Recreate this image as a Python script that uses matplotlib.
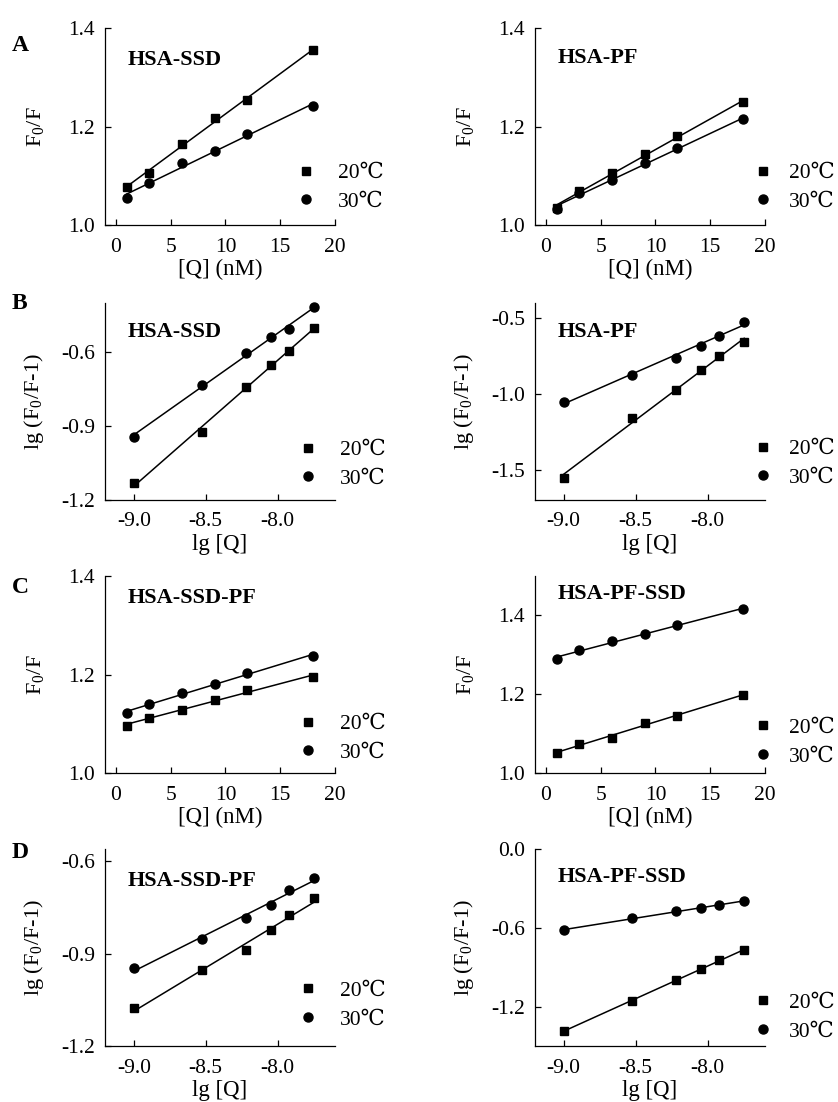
import numpy as np
import matplotlib.pyplot as plt
from matplotlib.lines import Line2D

plt.rcParams['font.family'] = ['Liberation Serif', 'DejaVu Serif', 'Noto Sans CJK SC']
plt.rcParams['mathtext.fontset'] = 'custom'
plt.rcParams['mathtext.rm'] = 'Liberation Serif'
plt.rcParams['mathtext.it'] = 'Liberation Serif:italic'
plt.rcParams['axes.unicode_minus'] = False
plt.rcParams['font.size'] = 15

# quencher concentration (nM) and lg of molar concentration
conc = [1, 3, 6, 9, 12, 18]
lg_conc = [-9.0, -8.523, -8.222, -8.046, -7.921, -7.745]

# A: Stern-Volmer F0/F
a_ssd_20 = [1.078, 1.105, 1.164, 1.217, 1.254, 1.355]
a_ssd_30 = [1.055, 1.085, 1.125, 1.151, 1.185, 1.241]
a_pf_20 = [1.034, 1.070, 1.105, 1.144, 1.180, 1.249]
a_pf_30 = [1.033, 1.066, 1.091, 1.125, 1.156, 1.215]

# B: double log lg(F0/F-1)
b_ssd_20 = [-1.133, -0.925, -0.740, -0.651, -0.596, -0.500]
b_ssd_30 = [-0.943, -0.732, -0.605, -0.539, -0.504, -0.418]
b_pf_20 = [-1.553, -1.156, -0.977, -0.841, -0.747, -0.660]
b_pf_30 = [-1.053, -0.874, -0.760, -0.682, -0.616, -0.524]

# C: ternary systems F0/F
c_ssdpf_20 = [1.096, 1.111, 1.129, 1.149, 1.168, 1.195]
c_ssdpf_30 = [1.121, 1.140, 1.163, 1.180, 1.203, 1.238]
c_pfssd_20 = [1.052, 1.074, 1.088, 1.127, 1.145, 1.199]
c_pfssd_30 = [1.289, 1.312, 1.335, 1.352, 1.376, 1.416]

# D: ternary systems lg(F0/F-1)
d_ssdpf_20 = [-1.078, -0.953, -0.889, -0.823, -0.776, -0.720]
d_ssdpf_30 = [-0.948, -0.851, -0.785, -0.743, -0.694, -0.654]
d_pfssd_20 = [-1.385, -1.157, -1.000, -0.914, -0.848, -0.769]
d_pfssd_30 = [-0.618, -0.526, -0.473, -0.452, -0.424, -0.398]

temps = ['20\u2103', '30\u2103']

fig = plt.figure(figsize=(8.38, 11.02), dpi=100)

col_left = [0.1253, 0.6384]
row_bottom = [0.7958, 0.5463, 0.2985, 0.0508]
w, h = 0.2745, 0.1788


def draw_panel(ax, x, y20, y30, name, xlim, ylim, xticks, yticks, xlabel, ylabel,
               title_y, leg_x, leg_y, tpad):
    for y, m, ms in ((y20, 's', 5.5), (y30, 'o', 6.5)):
        ax.plot(x, y, m, color='k', ms=ms, ls='none', clip_on=False)
        # least squares line through the points
        k, b = np.polyfit(x, y, 1)
        xs = np.array([x[0], x[-1]])
        ax.plot(xs, k * xs + b, color='k', lw=1.1)
    ax.set_xlim(*xlim)
    ax.set_ylim(*ylim)
    ax.set_xticks(xticks)
    ax.set_yticks(yticks)
    ax.spines['top'].set_visible(False)
    ax.spines['right'].set_visible(False)
    for s in ('left', 'bottom'):
        ax.spines[s].set_linewidth(0.9)
    ax.tick_params(direction='in', length=4, width=0.9, labelsize=15.5)
    ax.tick_params(axis='y', pad=7)
    ax.tick_params(axis='x', pad=9)
    ax.set_xlabel(xlabel, fontsize=16.5, labelpad=2)
    ax.set_ylabel(ylabel, fontsize=16)
    ax.yaxis.set_label_coords(-0.255, 0.5)
    ax.text(0.10, title_y, name, transform=ax.transAxes, fontsize=16,
            fontweight='bold', va='center', ha='left')
    handles = [Line2D([], [], marker='s', color='k', ls='none', ms=5.5),
               Line2D([], [], marker='o', color='k', ls='none', ms=6.5)]
    ax.legend(handles, temps, loc='center left', bbox_to_anchor=(leg_x - 0.045, leg_y),
              frameon=False, borderpad=0, borderaxespad=0, handlelength=1.0,
              handletextpad=tpad, labelspacing=0.4, fontsize=15.5)


q_label = '[Q] (nM)'
lg_label = 'lg [Q]'
sv_label = 'F$_0$/F'
dl_label = 'lg (F$_0$/F-1)'
lg_ticks = [-9.0, -8.5, -8.0]

panels = [
    (0, 0, conc, a_ssd_20, a_ssd_30, 'HSA-SSD', (-1, 20), (1.0, 1.4), [0, 5, 10, 15, 20],
     [1.0, 1.2, 1.4], q_label, sv_label, 0.84, 0.87, 0.19, 1.0),
    (0, 1, conc, a_pf_20, a_pf_30, 'HSA-PF', (-1, 20), (1.0, 1.4), [0, 5, 10, 15, 20],
     [1.0, 1.2, 1.4], q_label, sv_label, 0.85, 0.99, 0.19, 0.7),
    (1, 0, lg_conc, b_ssd_20, b_ssd_30, 'HSA-SSD', (-9.2, -7.6), (-1.2, -0.4), lg_ticks,
     [-1.2, -0.9, -0.6], lg_label, dl_label, 0.85, 0.88, 0.18, 1.0),
    (1, 1, lg_conc, b_pf_20, b_pf_30, 'HSA-PF', (-9.2, -7.6), (-1.7, -0.4), lg_ticks,
     [-1.5, -1.0, -0.5], lg_label, dl_label, 0.85, 0.99, 0.185, 0.7),
    (2, 0, conc, c_ssdpf_20, c_ssdpf_30, 'HSA-SSD-PF', (-1, 20), (1.0, 1.4), [0, 5, 10, 15, 20],
     [1.0, 1.2, 1.4], q_label, sv_label, 0.89, 0.88, 0.175, 1.0),
    (2, 1, conc, c_pfssd_20, c_pfssd_30, 'HSA-PF-SSD', (-1, 20), (1.0, 1.5), [0, 5, 10, 15, 20],
     [1.0, 1.2, 1.4], q_label, sv_label, 0.91, 0.99, 0.157, 0.7),
    (3, 0, lg_conc, d_ssdpf_20, d_ssdpf_30, 'HSA-SSD-PF', (-9.2, -7.6), (-1.2, -0.56), lg_ticks,
     [-1.2, -0.9, -0.6], lg_label, dl_label, 0.84, 0.88, 0.208, 1.0),
    (3, 1, lg_conc, d_pfssd_20, d_pfssd_30, 'HSA-PF-SSD', (-9.2, -7.6), (-1.5, 0.0), lg_ticks,
     [-1.2, -0.6, 0.0], lg_label, dl_label, 0.86, 0.99, 0.147, 0.7),
]

for (r, c, x, y20, y30, name, xlim, ylim, xt, yt, xl, yl, ty, lx, ly, tp) in panels:
    ax = fig.add_axes([col_left[c], row_bottom[r], w, h])
    draw_panel(ax, np.array(x), y20, y30, name, xlim, ylim, xt, yt, xl, yl, ty, lx, ly, tp)

for letter, yy in zip('ABCD', [0.959, 0.725, 0.467, 0.226]):
    fig.text(0.014, yy, letter, fontsize=17, fontweight='bold', va='center', ha='left')

fig.savefig('out.png', dpi=100)
